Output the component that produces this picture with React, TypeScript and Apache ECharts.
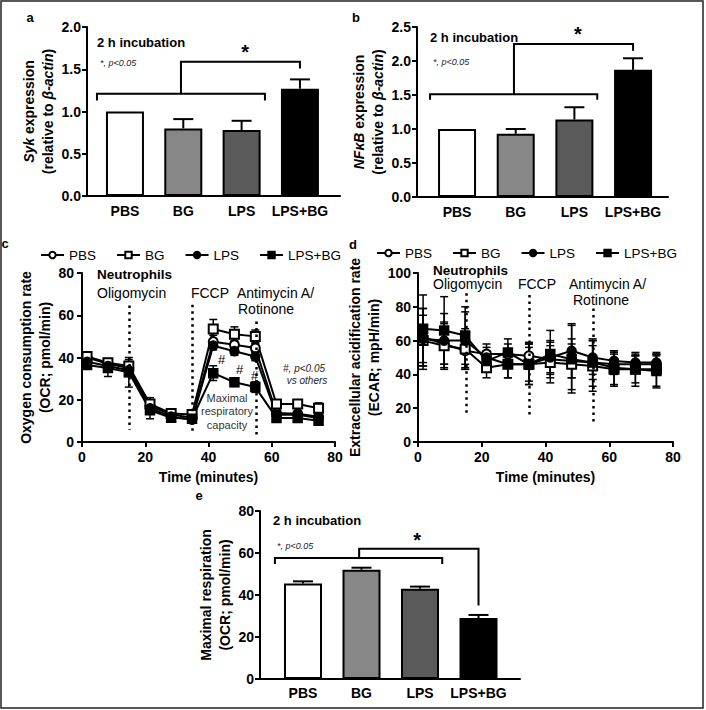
import React, { useEffect, useRef } from 'react';
import * as echarts from 'echarts';

const FONT = '"Liberation Sans", Arial, Helvetica, sans-serif';

const groups = ['PBS', 'BG', 'LPS', 'LPS+BG'];
const barColors = ['#ffffff', '#878787', '#5a5a5a', '#000000'];

// Panel a: Syk expression
const sykMean = [1.0, 0.8, 0.78, 1.27];
const sykErr = [0, 0.11, 0.11, 0.11];
// bracket x (category units): left, right, middle, target, star
const sykBracketX = [-0.48, 2.4, 0.96, 3, 2.06];
// bracket y: leftEnd, leftBar, top, targetEnd, star
const sykBracketY = [1.13, 1.21, 1.59, 1.51, 1.7];

// Panel b: NFkB expression
const nfkbMean = [1.0, 0.93, 1.14, 1.87];
const nfkbErr = [0, 0.07, 0.18, 0.17];
const nfkbBracketX = [-0.46, 2.39, 0.97, 3, 2.06];
const nfkbBracketY = [1.43, 1.51, 2.25, 2.15, 2.4];

// Panel e: Maximal respiration
const maxRespMean = [45.5, 52, 43, 29];
const maxRespErr = [1, 1, 1, 1.5];
const maxRespBracketX = [-0.48, 2.38, 0.96, 3, 1.95];
const maxRespBracketY = [54.8, 57.6, 62, 35, 66];

// Panels c/d: time course
const times = [1.6, 8.2, 14.8, 21.5, 28.2, 34.8, 41.5, 48.2, 54.8, 61.5, 68.2, 74.8];
const ocrPBS = [40, 37, 35, 17, 13, 11.5, 47.5, 46, 44.5, 13.7, 13.4, 12];
const ocrBG = [40.5, 37.5, 36, 18, 13.5, 13, 53.5, 51, 50, 18, 18, 16];
const ocrLPS = [38, 36, 34, 16, 12, 10.5, 45.6, 43, 40.5, 12.9, 12.9, 11.4];
const ocrLPSBG = [36.5, 35, 33, 15, 11.5, 11, 32.6, 28.3, 26, 11.4, 11.4, 10.1];
const ocrErrPBS = [2, 2, 3, 2, 2, 2, 3, 2, 2, 1, 1, 1];
const ocrErrBG = [2, 2, 3, 3, 2, 2, 4.5, 3.5, 3, 1, 1, 2.5];
const ocrErrLPS = [2, 2, 3, 2, 1.5, 1, 2, 2, 2, 1, 1, 1];
const ocrErrLPSBG = [2, 4, 7, 4, 2, 2, 3.5, 2, 2.5, 1, 1, 1.5];

const ecarPBS = [62, 58, 54, 52, 52, 51, 49, 48, 47, 46, 46, 46];
const ecarBG = [60, 57, 55, 44, 46, 46, 47, 46, 45, 43, 43, 43];
const ecarLPS = [61, 60, 60, 50, 46, 46, 50, 54, 50, 48, 47, 47];
const ecarLPSBG = [67, 66, 63, 48, 53, 46, 52, 49, 47, 44, 43, 42];
const ecarErrPBS = [17, 12, 10, 6, 6, 8, 8, 10, 10, 6, 5, 5];
const ecarErrBG = [15, 14, 12, 6, 8, 12, 12, 15, 15, 10, 8, 10];
const ecarErrLPS = [18, 16, 17, 6, 8, 10, 10, 16, 10, 6, 5, 5];
const ecarErrLPSBG = [20, 20, 17, 6, 8, 12, 14, 20, 14, 10, 10, 10];

// injection marker lines (x, top, bottom)
const injections = [15, 35, 55];
const ocrInjTop = [64.6, 65, 57];
const ocrInjBottom = [5.8, 5, 2.7];
const ecarInjTop = [88, 87, 79];
const ecarInjBottom = [15, 15, 11];

const symbols = ['emptyCircle', 'emptyRect', 'circle', 'rect'];

const axisLineStyle = { color: '#000', width: 2 };
const labelStyle = { color: '#000', fontSize: 14, fontWeight: 'bold', fontFamily: FONT };

const nameStyle = {
  color: '#000',
  fontSize: 14,
  fontWeight: 'bold',
  fontFamily: FONT,
  lineHeight: 19,
  rich: {
    i: { fontStyle: 'italic', fontWeight: 'bold', fontSize: 14, fontFamily: FONT, color: '#000', lineHeight: 19 },
  },
};

const frameX = (g: number) => ({
  type: 'value', gridIndex: g, min: 0, max: 1,
  axisLine: { show: true, onZero: false, lineStyle: axisLineStyle },
  axisTick: { show: false }, axisLabel: { show: false }, splitLine: { show: false },
});
const catX = (g: number, margin: number) => ({
  type: 'category', gridIndex: g, data: groups,
  axisLine: { show: false }, axisTick: { show: false },
  axisLabel: { ...labelStyle, margin, interval: 0 }, splitLine: { show: false },
});
const valY = (g: number, max: number, interval: number, name: string, nameGap: number, margin: number, dec: number) => ({
  type: 'value', gridIndex: g, min: 0, max, interval,
  axisLine: { show: true, onZero: false, lineStyle: axisLineStyle },
  axisTick: { show: true, length: 5, lineStyle: { color: '#000', width: 2 } },
  axisLabel: { ...labelStyle, margin, formatter: (v: number) => v.toFixed(dec) },
  splitLine: { show: false },
  name, nameLocation: 'middle', nameGap, nameRotate: 90, nameTextStyle: nameStyle,
});
const hiddenY = (g: number, max: number) => ({ type: 'value', gridIndex: g, min: 0, max, show: false, splitLine: { show: false } });
const timeX = (g: number) => ({
  type: 'value', gridIndex: g, min: 0, max: 80, interval: 20,
  axisLine: { show: true, onZero: false, lineStyle: axisLineStyle },
  axisTick: { show: true, length: 5, lineStyle: { color: '#000', width: 2 } },
  axisLabel: { ...labelStyle, margin: 8 }, splitLine: { show: false },
  name: 'Time (minutes)', nameLocation: 'middle', nameGap: 28,
  nameTextStyle: { ...labelStyle },
});

const barSeries = (ax: number, means: number[]) => ({
  type: 'bar', xAxisIndex: ax, yAxisIndex: ax, barWidth: 38, silent: true, z: 2,
  data: means.map((v, i) => ({ value: v, itemStyle: { color: barColors[i] } })),
  itemStyle: { borderColor: '#000', borderWidth: 2 },
});

const barErrSeries = (ax: number, means: number[], errs: number[]) => ({
  type: 'custom', xAxisIndex: ax, yAxisIndex: ax, silent: true, z: 3,
  data: means.map((m, i) => [i, m, errs[i]]),
  renderItem: (_p: any, api: any) => {
    const i = api.value(0), m = api.value(1), e = api.value(2);
    if (!e) return { type: 'group', children: [] };
    const b = api.coord([i, m]);
    const t = api.coord([i, m + e]);
    const w = 10;
    const st = { stroke: '#000', lineWidth: 2 };
    return {
      type: 'group', children: [
        { type: 'line', shape: { x1: b[0], y1: b[1], x2: t[0], y2: t[1] }, style: st },
        { type: 'line', shape: { x1: t[0] - w, y1: t[1], x2: t[0] + w, y2: t[1] }, style: st },
      ],
    };
  },
});

const bracketSeries = (ax: number, bx: number[], by: number[]) => ({
  type: 'custom', xAxisIndex: ax, yAxisIndex: ax, silent: true, z: 4,
  data: [[0, by[0]]],
  renderItem: (_p: any, api: any) => {
    const x0 = api.coord([0, 0])[0];
    const bw = api.size([1, 0])[0];
    const px = (f: number) => x0 + f * bw;
    const py = (v: number) => api.coord([0, v])[1];
    const st = { stroke: '#000', lineWidth: 2, fill: 'none' };
    return {
      type: 'group', children: [
        { type: 'polyline', shape: { points: [[px(bx[0]), py(by[0])], [px(bx[0]), py(by[1])], [px(bx[1]), py(by[1])], [px(bx[1]), py(by[0])]] }, style: st },
        { type: 'polyline', shape: { points: [[px(bx[2]), py(by[1])], [px(bx[2]), py(by[2])], [px(bx[3]), py(by[2])], [px(bx[3]), py(by[3])]] }, style: st },
        { type: 'text', style: { text: '*', x: px(bx[4]), y: py(by[4]), fill: '#000', fontSize: 20, fontWeight: 'bold', fontFamily: FONT, align: 'center', verticalAlign: 'middle' } },
      ],
    };
  },
});

const lineSeries = (ax: number, name: string, idx: number, vals: number[], mark?: any) => ({
  type: 'line', name, xAxisIndex: ax, yAxisIndex: ax, z: 3, silent: true,
  data: times.map((t, k) => [t, vals[k]]),
  symbol: symbols[idx], symbolSize: 9, showSymbol: true,
  lineStyle: { color: '#000', width: 2 },
  itemStyle: { color: '#000', borderColor: '#000', borderWidth: 1.5 },
  ...(mark ? { markLine: mark } : {}),
});

const lineErrSeries = (ax: number, vals: number[], errs: number[]) => ({
  type: 'custom', xAxisIndex: ax, yAxisIndex: ax, silent: true, z: 2,
  data: times.map((t, k) => [t, vals[k], errs[k]]),
  renderItem: (_p: any, api: any) => {
    const t = api.value(0), m = api.value(1), e = api.value(2);
    const lo = api.coord([t, m - e]);
    const hi = api.coord([t, m + e]);
    const w = 4;
    const st = { stroke: '#000', lineWidth: 1.5 };
    return {
      type: 'group', children: [
        { type: 'line', shape: { x1: lo[0], y1: lo[1], x2: hi[0], y2: hi[1] }, style: st },
        { type: 'line', shape: { x1: hi[0] - w, y1: hi[1], x2: hi[0] + w, y2: hi[1] }, style: st },
        { type: 'line', shape: { x1: lo[0] - w, y1: lo[1], x2: lo[0] + w, y2: lo[1] }, style: st },
      ],
    };
  },
});

const injMark = (tops: number[], bottoms: number[]) => ({
  silent: true, symbol: ['none', 'none'], label: { show: false },
  lineStyle: { color: '#000', type: [2.5, 4], width: 2.5 },
  emphasis: { disabled: true },
  data: injections.map((x, k) => [{ coord: [x, tops[k]] }, { coord: [x, bottoms[k]] }]),
});

const T = (text: string, x: number, y: number, o: any = {}) => ({
  type: 'text', x, y, silent: true, z: 10,
  style: {
    text, fill: o.color || '#000', fontSize: o.size || 14,
    fontWeight: o.weight || 'normal', fontStyle: o.italic ? 'italic' : 'normal',
    fontFamily: FONT, align: o.align || 'left', verticalAlign: 'middle',
  },
});

const legendCfg = (left: number, top: number) => ({
  left, top, orient: 'horizontal', itemGap: 20, itemWidth: 23, itemHeight: 8,
  data: groups, selectedMode: false,
  textStyle: { color: '#000', fontSize: 13.5, fontFamily: FONT },
  padding: 0,
});

const option: any = {
  animation: false,
  backgroundColor: '#ffffff',
  textStyle: { fontFamily: FONT },
  legend: [legendCfg(40, 248), legendCfg(376, 246)],
  grid: [
    { left: 87, top: 27, width: 253, height: 169, outerBoundsMode: 'none' },
    { left: 95.8, top: 27, width: 233.3, height: 169, outerBoundsMode: 'none' },
    { left: 417, top: 27, width: 251, height: 170, outerBoundsMode: 'none' },
    { left: 427.7, top: 27, width: 234.7, height: 170, outerBoundsMode: 'none' },
    { left: 82, top: 273, width: 253, height: 169, outerBoundsMode: 'none' },
    { left: 418, top: 273, width: 255, height: 169, outerBoundsMode: 'none' },
    { left: 260, top: 511, width: 260, height: 168, outerBoundsMode: 'none' },
    { left: 273.75, top: 511, width: 234, height: 168, outerBoundsMode: 'none' },
  ],
  xAxis: [frameX(0), catX(1, 8), frameX(2), catX(3, 8), timeX(4), timeX(5), frameX(6), catX(7, 7)],
  yAxis: [
    valY(0, 2, 0.5, '{i|Syk} expression\n(relative to {i|β-actin})', 26, 6, 1),
    hiddenY(1, 2),
    valY(2, 2.5, 0.5, '{i|NFκB} expression\n(relative to {i|β-actin})', 26, 6, 1),
    hiddenY(3, 2.5),
    valY(4, 80, 20, 'Oxygen consumption rate\n(OCR; pmol/min)', 20, 8, 0),
    valY(5, 100, 20, 'Extracellular acidification rate\n(ECAR; mpH/min)', 26, 7, 0),
    valY(6, 80, 20, 'Maximal respiration\n(OCR; pmol/min)', 21, 6, 0),
    hiddenY(7, 80),
  ],
  series: [
    barSeries(1, sykMean), barErrSeries(1, sykMean, sykErr), bracketSeries(1, sykBracketX, sykBracketY),
    barSeries(3, nfkbMean), barErrSeries(3, nfkbMean, nfkbErr), bracketSeries(3, nfkbBracketX, nfkbBracketY),
    barSeries(7, maxRespMean), barErrSeries(7, maxRespMean, maxRespErr), bracketSeries(7, maxRespBracketX, maxRespBracketY),
    lineErrSeries(4, ocrPBS, ocrErrPBS), lineErrSeries(4, ocrBG, ocrErrBG),
    lineErrSeries(4, ocrLPS, ocrErrLPS), lineErrSeries(4, ocrLPSBG, ocrErrLPSBG),
    lineSeries(4, 'PBS', 0, ocrPBS, injMark(ocrInjTop, ocrInjBottom)),
    lineSeries(4, 'BG', 1, ocrBG), lineSeries(4, 'LPS', 2, ocrLPS), lineSeries(4, 'LPS+BG', 3, ocrLPSBG),
    lineErrSeries(5, ecarPBS, ecarErrPBS), lineErrSeries(5, ecarBG, ecarErrBG),
    lineErrSeries(5, ecarLPS, ecarErrLPS), lineErrSeries(5, ecarLPSBG, ecarErrLPSBG),
    lineSeries(5, 'PBS', 0, ecarPBS, injMark(ecarInjTop, ecarInjBottom)),
    lineSeries(5, 'BG', 1, ecarBG), lineSeries(5, 'LPS', 2, ecarLPS), lineSeries(5, 'LPS+BG', 3, ecarLPSBG),
  ],
  graphic: [
    { type: 'rect', silent: true, z: 0, shape: { x: 1, y: 1, width: 702, height: 707 }, style: { fill: 'none', stroke: '#222', lineWidth: 1.5 } },
    T('a', 30, 17, { weight: 'bold', size: 13, align: 'center' }),
    T('b', 356, 17, { weight: 'bold', size: 13, align: 'center' }),
    T('c', 5, 243, { weight: 'bold', size: 13, align: 'center' }),
    T('d', 353, 244, { weight: 'bold', size: 13, align: 'center' }),
    T('e', 199, 495, { weight: 'bold', size: 13, align: 'center' }),
    T('2 h incubation', 97, 42, { weight: 'bold', size: 13 }),
    T('*, p<0.05', 100, 63, { italic: true, size: 9, color: '#222' }),
    T('2 h incubation', 430, 37, { weight: 'bold', size: 13 }),
    T('*, p<0.05', 433, 62, { italic: true, size: 9, color: '#222' }),
    T('2 h incubation', 273, 520, { weight: 'bold', size: 13 }),
    T('*, p<0.05', 277, 546, { italic: true, size: 9, color: '#222' }),
    T('Neutrophils', 97, 274, { weight: 'bold', size: 13.5 }),
    T('Oligomycin', 97, 293),
    T('FCCP', 210, 293, { align: 'center' }),
    T('Antimycin A/', 237, 293),
    T('Rotinone', 266, 309, { align: 'center' }),
    T('#', 218, 359, { size: 13 }),
    T('#', 236, 369, { size: 13 }),
    T('#', 251, 375, { size: 13 }),
    T('#, p<0.05', 304, 368, { italic: true, size: 10, color: '#222', align: 'center' }),
    T('vs others', 307, 380, { italic: true, size: 10, color: '#222', align: 'center' }),
    T('Maximal', 227, 398, { size: 11, color: '#333', align: 'center' }),
    T('respiratory', 227, 411, { size: 11, color: '#333', align: 'center' }),
    T('capacity', 227, 425, { size: 11, color: '#333', align: 'center' }),
    T('Neutrophils', 433, 270, { weight: 'bold', size: 13.5 }),
    T('Oligomycin', 433, 284),
    T('FCCP', 537, 284, { align: 'center' }),
    T('Antimycin A/', 569, 284),
    T('Rotinone', 601, 300, { align: 'center' }),
  ],
};

const App = () => {
  const ref = useRef<HTMLDivElement>(null);
  useEffect(() => {
    const chart = echarts.init(ref.current!, null, { renderer: 'svg' });
    chart.setOption(option);
    return () => chart.dispose();
  }, []);
  return (
    <div
      ref={ref}
      style={{ position: 'absolute', left: 0, top: 0, width: 706, height: 710, background: '#fff' }}
    />
  );
};

export default App;
